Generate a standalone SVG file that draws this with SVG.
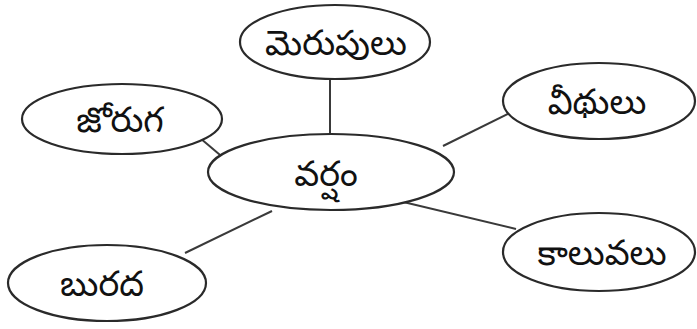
<svg xmlns="http://www.w3.org/2000/svg" width="697" height="329" viewBox="0 0 697 329">
<style>
.n{fill:#fff;stroke:#2a2a2a;stroke-width:2.2}
.e{stroke:#3a3a3a;stroke-width:2}
.t{font-family:"Noto Sans Telugu","Noto Sans","DejaVu Sans",sans-serif;font-size:35px;fill:#111;text-anchor:middle}
</style>
<rect width="697" height="329" fill="#fff"/>
<g id="connectors">
<line class="e" x1="330" y1="79" x2="330" y2="134"/>
<line class="e" x1="200" y1="138" x2="226" y2="160"/>
<line class="e" x1="443" y1="146" x2="512" y2="112"/>
<line class="e" x1="395" y1="200" x2="516" y2="229"/>
<line class="e" x1="272" y1="211" x2="185" y2="253"/>
</g>
<g id="merupulu"><ellipse class="n" cx="335" cy="42" rx="95" ry="37"/><text class="t" x="336" y="55">మెరుపులు</text></g>
<g id="joruga"><ellipse class="n" cx="122" cy="119" rx="100" ry="35"/><text class="t" x="120" y="132">జోరుగ</text></g>
<g id="varsham"><ellipse class="n" cx="331" cy="172" rx="123" ry="38"/><text class="t" x="326" y="186">వర్షం</text></g>
<g id="veedhulu"><ellipse class="n" cx="599" cy="101" rx="96" ry="38"/><text class="t" x="597" y="114">వీథులు</text></g>
<g id="kaaluvalu"><ellipse class="n" cx="599" cy="252" rx="96" ry="39"/><text class="t" x="602" y="265">కాలువలు</text></g>
<g id="burada"><ellipse class="n" cx="107" cy="283" rx="99" ry="38"/><text class="t" x="102" y="296">బురద</text></g>
</svg>
